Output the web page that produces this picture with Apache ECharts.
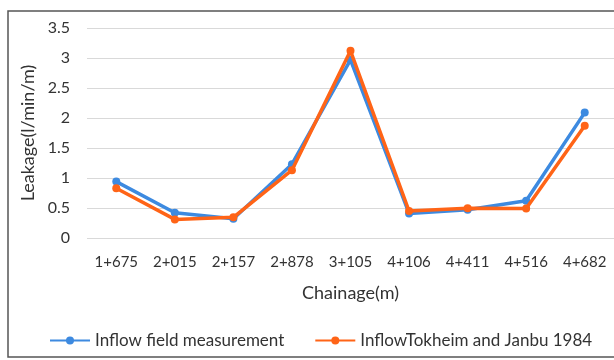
<!DOCTYPE html>
<html><head><meta charset="utf-8">
<script src="https://cdn.jsdelivr.net/npm/echarts@6/dist/echarts.min.js"></script>
<style>html,body{margin:0;padding:0;background:#fff}#c{width:614px;height:360px}</style>
</head><body><div id="c"></div>
<script>
var categories = ['1+675','2+015','2+157','2+878','3+105','4+106','4+411','4+516','4+682'];
var fieldMeasurement = [0.94, 0.42, 0.32, 1.23, 2.97, 0.41, 0.47, 0.62, 2.09];
var tokheimJanbu = [0.83, 0.31, 0.345, 1.13, 3.12, 0.45, 0.495, 0.49, 1.87];
var seriesNames = ['Inflow field measurement', 'InflowTokheim and Janbu 1984'];
var yTicks = {min: 0, max: 3.5, interval: 0.5};

var font = 'Lato';
var chart = echarts.init(document.getElementById('c'));
chart.setOption({
  animation: false,
  backgroundColor: '#fff',
  graphic: [{
    type: 'rect', shape: {x: 8, y: 11, width: 620, height: 346},
    style: {fill: 'none', stroke: '#555', lineWidth: 1.5}, silent: true
  }],
  grid: {left: 87, top: 28, width: 527, height: 210},
  legend: {
    bottom: 6, left: 44, itemWidth: 40, itemHeight: 10, itemGap: 30,
    textStyle: {fontFamily: font, fontSize: 17, color: '#333'},
    data: seriesNames
  },
  xAxis: {
    type: 'category', data: categories, boundaryGap: true,
    axisLine: {show: false}, axisTick: {show: false},
    axisLabel: {fontFamily: font, fontSize: 15, color: '#333', margin: 17, interval: 0},
    name: 'Chainage(m)', nameLocation: 'middle', nameGap: 46,
    nameTextStyle: {fontFamily: font, fontSize: 18, color: '#333'}
  },
  yAxis: {
    type: 'value', min: yTicks.min, max: yTicks.max, interval: yTicks.interval,
    axisLine: {show: false}, axisTick: {show: false},
    axisLabel: {fontFamily: font, fontSize: 16, color: '#333', margin: 17},
    splitLine: {lineStyle: {color: '#d9d9d9', width: 1.2}},
    name: 'Leakage(l/min/m)', nameLocation: 'middle', nameGap: 42,
    nameTextStyle: {fontFamily: font, fontSize: 18, color: '#333'}
  },
  series: [{
    name: seriesNames[0], type: 'line', data: fieldMeasurement,
    symbol: 'circle', symbolSize: 8,
    lineStyle: {color: '#3d8ae0', width: 3.5},
    itemStyle: {color: '#3d8ae0'}, z: 2
  }, {
    name: seriesNames[1], type: 'line', data: tokheimJanbu,
    symbol: 'circle', symbolSize: 8,
    lineStyle: {color: '#ff6417', width: 3.5},
    itemStyle: {color: '#ff6417'}, z: 3
  }]
});
</script></body></html>
